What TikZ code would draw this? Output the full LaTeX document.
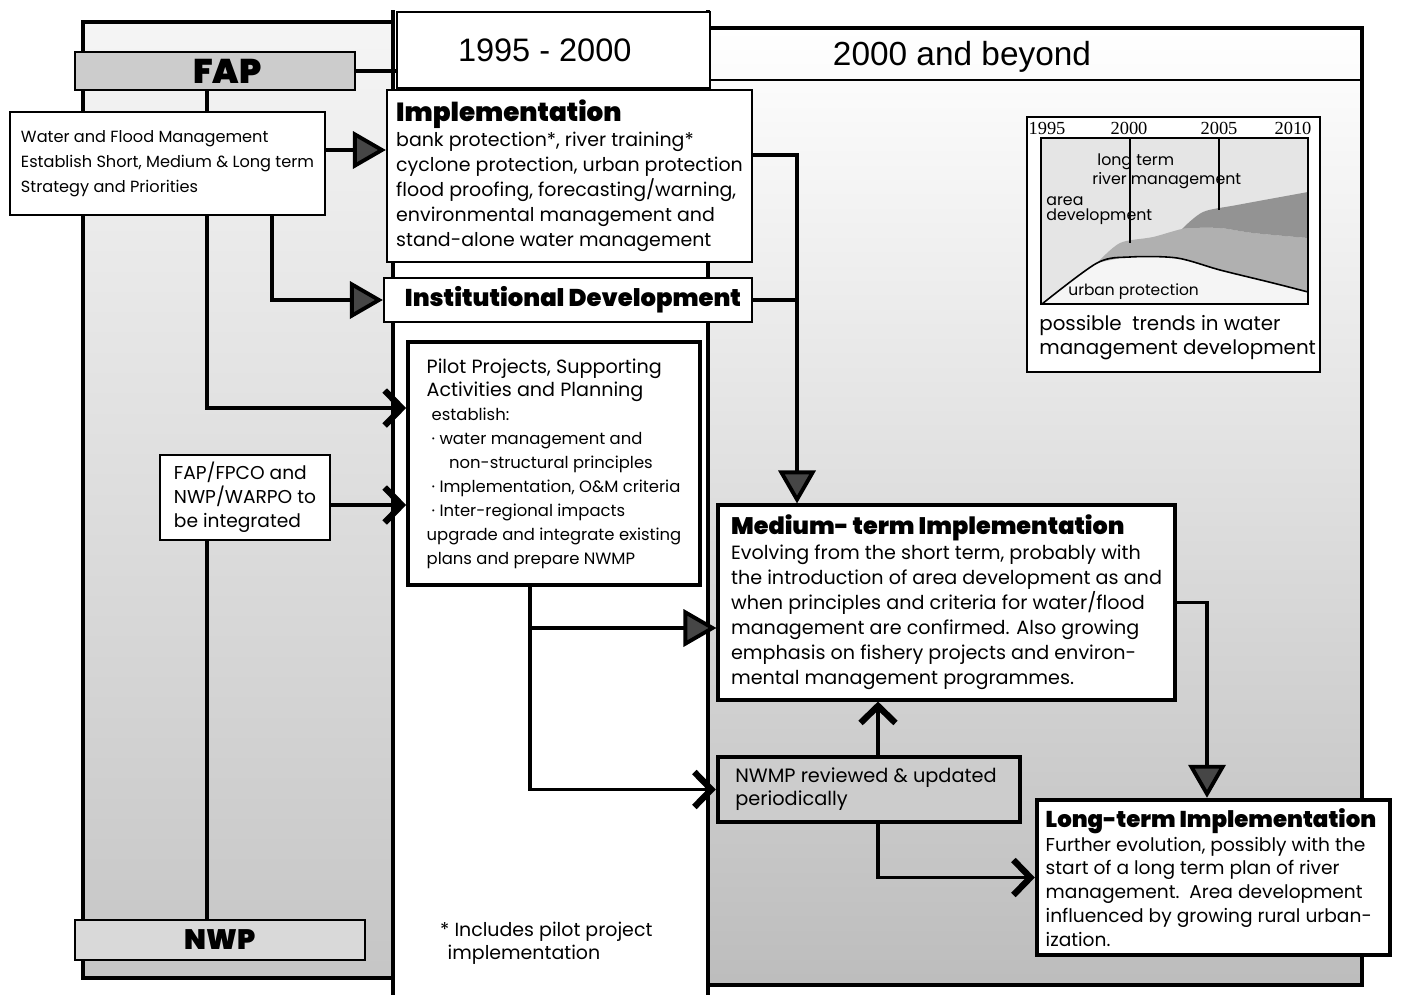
\documentclass[tikz,border=0pt]{standalone}
\usepackage{fontspec}
\setmainfont{Poppins}
\newfontfamily\heavy{Poppins Black}
\newfontfamily\helv{Liberation Sans}
\newfontfamily\yearfont{Liberation Serif}
\usetikzlibrary{arrows.meta, positioning, calc}
\tikzstyle{panel} = [line width=2.4pt, line cap=rect]
\tikzstyle{box} = [rectangle, draw=black, line width=1.3pt, fill=white, inner xsep=0.1cm, inner ysep=0pt, align=left]
\tikzstyle{bar} = [rectangle, draw=black, line width=1.6pt, fill=gray!40, font=\heavy\fontsize{16}{18}\selectfont]
\tikzstyle{link} = [line width=2.2pt]
\tikzstyle{bigarrow} = [link, -{Triangle[length=0.66cm, width=0.74cm, fill=gray!55!black]}]
\tikzstyle{chevron} = [link, -{Straight Barb[length=0.34cm, width=0.7cm, line width=3.6pt]}]
\newcommand{\bigline}[1]{{\fontsize{10.9}{14}\selectfont #1}}

\begin{document}
\begin{tikzpicture}[x=0.02cm, y=-0.02cm]
\useasboundingbox (0,0) rectangle (1403,994);

\shade[top color=gray!8, bottom color=gray!45] (83,22) rectangle (393,978);
\shade[top color=white, middle color=gray!6, bottom color=gray!52] (708,28) rectangle (1362,985);
\draw[panel] (393,22) -- (83,22) -- (83,978) -- (393,978);
\draw[panel] (393,12) -- (393,994);
\draw[panel] (708,12) -- (708,994);
\draw[panel] (708,28) -- (1362,28) -- (1362,985) -- (708,985);
\draw[line width=1pt] (708,80) -- (1362,80);

\coordinate (trunkA) at (207,0);
\coordinate (trunkB) at (272,0);
\coordinate (trunkC) at (797,0);
\coordinate (trunkD) at (530,0);
\coordinate (trunkE) at (878,0);
\coordinate (trunkF) at (1207,0);

\node (hdrmid) [box, align=center, inner xsep=0pt, minimum width=6.26cm, minimum height=1.52cm, font=\helv\fontsize{18.5}{20}\selectfont] at (553.5,50) {1995 - 2000\hspace*{0.35cm}};
\node (hdrright) [font=\helv\fontsize{19}{22}\selectfont] at (962,57) {2000 and beyond};

\node (fap) [bar, minimum width=5.6cm, minimum height=0.76cm, font=\heavy\fontsize{19.5}{20}\selectfont] at (215,71) {\hspace*{0.5cm}FAP};
\node (nwp) [bar, fill=gray!30, minimum width=5.8cm, minimum height=0.8cm] at (220,940) {NWP};

\node (water) [box, minimum width=6.3cm, minimum height=2.06cm, font=\fontsize{9.2}{14.2}\selectfont] at (167.5,163.5) {Water and Flood Management\\Establish Short, Medium \& Long term\\Strategy and Priorities};

\node (impl) [box, minimum width=7.3cm, minimum height=3.44cm, font=\fontsize{10.8}{14.2}\selectfont] at (569.5,176) {{\heavy\fontsize{14.9}{16}\selectfont Implementation}\\bank protection*, river training*\\cyclone protection, urban protection\\flood proofing, forecasting/warning,\\environmental management and\\stand-alone water management};

\node (inst) [box, align=center, minimum width=7.36cm, minimum height=0.88cm, font=\heavy\fontsize{13.8}{15}\selectfont] at (568,300) {\hspace*{0.2cm}Institutional Development};

\node (pilot) [box, line width=2.2pt, minimum width=5.84cm, minimum height=4.86cm, font=\fontsize{9.35}{13.6}\selectfont] at (554,463.5) {\bigline{Pilot Projects, Supporting}\\\bigline{Activities and Planning}\\\hspace*{0.1cm}establish:\\\hspace*{0.1cm}· water management and\\\hspace*{0.45cm}non-structural principles\\\hspace*{0.1cm}· Implementation, O\&M criteria\\\hspace*{0.1cm}· Inter-regional impacts\\upgrade and integrate existing\hspace*{0.2cm}\\plans and prepare NWMP};

\node (fpco) [box, minimum width=3.4cm, minimum height=1.7cm, font=\fontsize{10.6}{13.6}\selectfont] at (245,497.5) {FAP/FPCO and\\NWP/WARPO to\\be integrated};

\node (medium) [box, line width=1.8pt, minimum width=9.14cm, minimum height=3.9cm, font=\fontsize{10.9}{14.2}\selectfont] at (946.5,602.5) {{\heavy\fontsize{13.6}{16}\selectfont Medium- term Implementation}\\Evolving from the short term, probably with\\the introduction of area development as and\\when principles and criteria for water/flood\\management are confirmed. Also growing\\emphasis on fishery projects and environ-\\mental management programmes.};

\node (nwmp) [box, line width=2.6pt, fill=gray!40, minimum width=6.04cm, minimum height=1.3cm, font=\fontsize{11}{13}\selectfont] at (869,789.5) {NWMP reviewed \& updated\\periodically\hspace*{3.1cm}};

\node (long) [box, line width=2.5pt, minimum width=7.06cm, minimum height=3.1cm, font=\fontsize{10.6}{13.6}\selectfont] at (1213.5,877.5) {{\heavy\fontsize{13}{15}\selectfont Long-term Implementation}\hspace*{0.1cm}\\Further evolution, possibly with the\\start of a long term plan of river\\management.\ \ Area development\\influenced by growing rural urban-\\ization.};

\node (note) [align=left, anchor=west, font=\fontsize{10.8}{13}\selectfont] at (434,943) {* Includes pilot project\\\hspace*{0.15cm}implementation};

\draw[link] (fap.south -| trunkA) -- (water.north -| trunkA);
\draw[link] (fap.east) -- (fap.east -| hdrmid.west);
\draw[bigarrow] ([yshift=0.27cm]water.east) -- ([yshift=0.27cm]water.east -| impl.west);
\draw[bigarrow] (water.south -| trunkB) |- (inst.west);
\draw[chevron] (water.south -| trunkA) |- ([yshift=1.11cm]pilot.west);
\draw[chevron] ([yshift=-0.15cm]fpco.east) -- ([yshift=-0.15cm]fpco.east -| pilot.west);
\draw[link] (fpco.south -| trunkA) -- (nwp.north -| trunkA);
\draw[bigarrow] ([yshift=0.42cm]impl.east) -| (medium.north -| trunkC);
\draw[link] (inst.east) -- (inst.east -| trunkC);
\draw[bigarrow] (pilot.south -| trunkD) |- ([yshift=-0.51cm]medium.west);
\draw[chevron] (pilot.south -| trunkD) |- (nwmp.west);
\draw[chevron] (nwmp.north -| trunkE) -- (medium.south -| trunkE);
\draw[chevron] (nwmp.south -| trunkE) |- (long.west);
\draw[bigarrow] (medium.east) -| (long.north -| trunkF);

\fill[white] (1027,117) rectangle (1320,372);
\draw[line width=0.8pt] (1027,117) rectangle (1320,372);
\fill[gray!20] (1041,138) rectangle (1308,304);
\fill[gray!8] plot[smooth] coordinates {(1042,304) (1097,263) (1130,257) (1177,258) (1220,270) (1273,283) (1308,292)} -- (1308,304) -- cycle;
\fill[gray!62] plot[smooth] coordinates {(1097,263) (1120,243) (1153,237) (1187,228) (1220,228) (1253,233) (1308,238)} -- plot[smooth] coordinates {(1308,292) (1273,283) (1220,270) (1177,258) (1130,257) (1097,263)} -- cycle;
\fill[gray!85] plot[smooth] coordinates {(1182,229) (1203,212) (1237,205) (1308,192)} -- plot[smooth] coordinates {(1308,238) (1253,233) (1220,228) (1187,228)} -- cycle;
\draw[line width=0.9pt] plot[smooth] coordinates {(1042,304) (1097,263) (1130,257) (1177,258) (1220,270) (1273,283) (1308,292)};
\draw[line width=0.9pt] (1130,138) -- (1130,243);
\draw[line width=0.9pt] (1219,138) -- (1219,210);
\draw[line width=1.2pt] (1041,138) rectangle (1308,304);

\node (yr1995) [font=\yearfont\fontsize{10.5}{12}\selectfont] at (1047,128) {1995};
\node (yr2000) [font=\yearfont\fontsize{10.5}{12}\selectfont] at (1129,128) {2000};
\node (yr2005) [font=\yearfont\fontsize{10.5}{12}\selectfont] at (1219,128) {2005};
\node (yr2010) [font=\yearfont\fontsize{10.5}{12}\selectfont] at (1293,128) {2010};
\node (lbllong) [anchor=west, align=left, inner sep=0pt, font=\fontsize{9}{11}\selectfont] at (1092,171) {\hspace*{0.1cm}long term\\river management};
\node (lblarea) [anchor=west, align=left, inner sep=0pt, font=\fontsize{9}{8.5}\selectfont] at (1046,211) {area\\development};
\node (lblurban) [anchor=west, inner sep=0pt, font=\fontsize{8.8}{10}\selectfont] at (1068,292) {urban protection};
\node (caption) [anchor=west, align=left, inner sep=0pt, font=\fontsize{11.3}{13.6}\selectfont] at (1039,338) {possible\ \ trends in water\\management development};

\end{tikzpicture}
\end{document}
